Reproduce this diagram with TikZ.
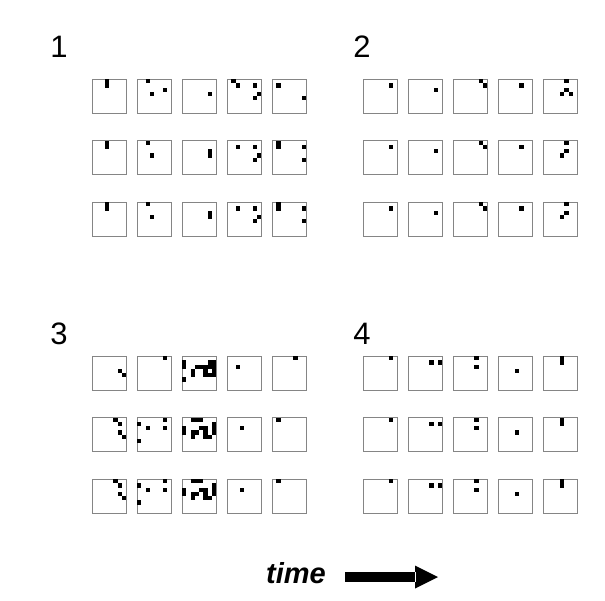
\documentclass[tikz,border=0pt]{standalone}
\usepackage{fontspec}
\setmainfont{Liberation Sans}
\usepackage{tikz}
\usetikzlibrary{arrows.meta, positioning}

\begin{document}
\begin{tikzpicture}[x=1pt, y=-1pt]

\useasboundingbox (0,0) rectangle (605,600);

\def \xs{34}   % square side
\def \xc{4.25} % cell side (8 x 8 cells)
\def \xp{45}   % square pitch
\def \xr{61.5} % row pitch

% one square: x, y of its top left corner, then black cells col/row
\newcommand{\xsq}[3]{
	\draw[black!48, line width=1pt] (#1, #2) rectangle ++(\xs, \xs);
	\foreach \c/\r in {#3} {
		\fill (#1 + \c * \xc, #2 + \r * \xc) rectangle ++(\xc, \xc);
	}
}

% a row of five squares: x, y, then five cell lists
\newcommand{\xrow}[7]{
	\xsq{#1}{#2}{#3}
	\xsq{#1 + \xp}{#2}{#4}
	\xsq{#1 + 2 * \xp}{#2}{#5}
	\xsq{#1 + 3 * \xp}{#2}{#6}
	\xsq{#1 + 4 * \xp}{#2}{#7}
}

% panel 1
\xrow{92}{79}{3/0,3/1}{2/0,3/3,6/2}{6/3}{1/0,2/1,6/1,7/3,6/4}{1/1,7/4}
\xrow{92}{79 + \xr}{3/0,3/1}{2/0,3/3}{6/2,6/3}{2/1,6/1,7/3,6/4}{1/0,1/1,7/1,7/4}
\xrow{92}{79 + 2 * \xr}{3/0,3/1}{2/0,3/3}{6/2,6/3}{2/1,6/1,7/3,6/4}{1/0,1/1,7/1,7/4}

% panel 2
\xrow{363}{79}{6/1}{6/2}{6/0,7/1}{5/1}{5/0,5/2,4/3,6/3}
\xrow{363}{79 + \xr}{6/1}{6/2}{6/0,7/1}{5/1}{5/0,5/2,4/3}
\xrow{363}{79 + 2 * \xr}{6/1}{6/2}{6/0,7/1}{5/1}{5/0,5/2,4/3}

% panel 3
\xrow{92}{356}{6/3,7/4}{6/0}{0/1,0/2,0/5,6/1,7/1,3/2,4/2,5/2,6/2,7/2,2/3,5/3,7/3,2/4,5/4,6/4,7/4}{2/2}{5/0}
\xrow{92}{356 + \xr}{5/0,6/1,6/3,7/4}{0/1,2/2,6/0,6/2,0/5}{2/0,3/0,4/0,0/2,0/3,7/1,7/2,7/3,4/2,5/2,5/3,2/3,3/3,2/4,5/4,6/4}{3/2}{1/0}
\xrow{92}{356 + 2 * \xr}{5/0,6/1,6/3,7/4}{0/1,2/2,6/0,6/2,0/5}{2/0,3/0,4/0,0/2,0/3,7/1,7/2,7/3,4/2,5/2,5/3,2/3,3/3,2/4,5/4,6/4}{3/2}{1/0}

% panel 4
\foreach \k in {0, 1, 2} {
	\xrow{363}{356 + \k * \xr}{6/0}{5/1,7/1}{5/0,5/2}{4/3}{4/0,4/1}
}

% panel numbers
\begin{scope}[every node/.style={font=\fontsize{31}{36}\selectfont}]
	\node (one)   at (59, 47)  {1};
	\node (two)   at (362, 47) {2};
	\node (three) at (59, 334) {3};
	\node (four)  at (362, 334) {4};
\end{scope}

% time arrow
\node[font=\bfseries\itshape\fontsize{29}{34}\selectfont] (time) at (296, 573) {time};
\coordinate (tail) at (345, 577);
\coordinate (tip)  at (438, 577);
\fill (tail) ++(0, -5) rectangle ++(70, 10);
\fill (tip) -- ++(-23, -11.5) -- ++(0, 23) -- cycle;
\draw[white, line width=0.8pt] (415, 572) -- (415, 582);

\end{tikzpicture}
\end{document}
